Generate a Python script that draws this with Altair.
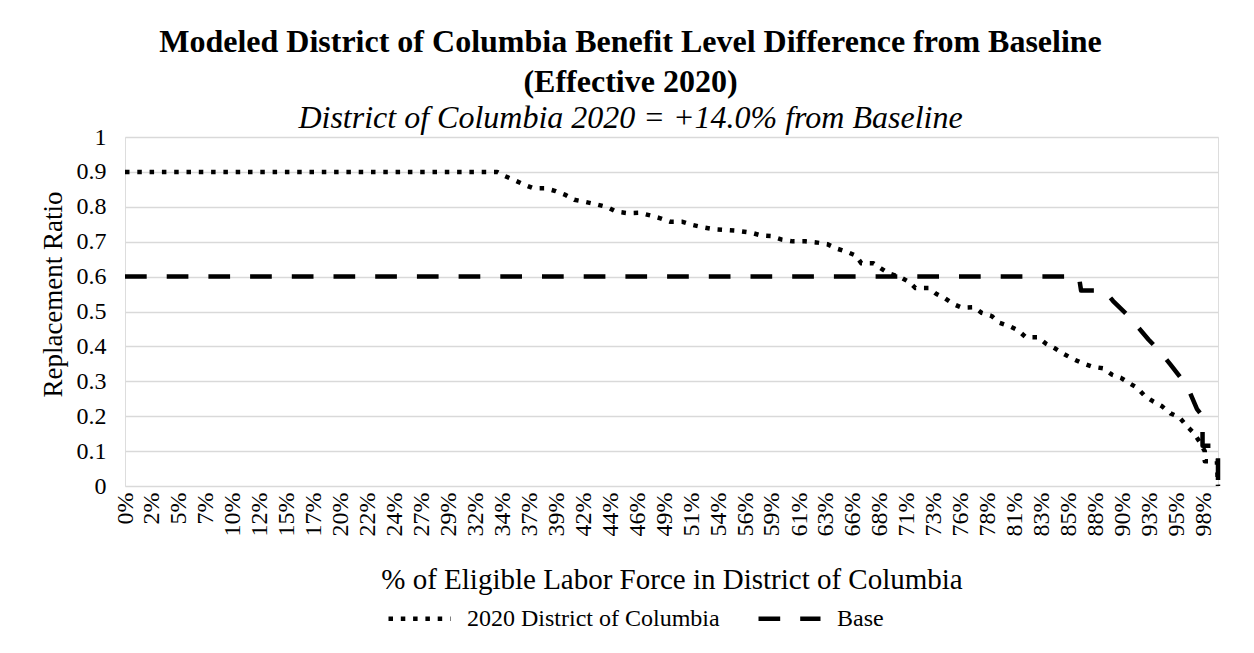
import json
import altair as alt
import pandas as pd

series_names = ["2020 District of Columbia", "Base"]

dc_x = [0, 33.7, 34.4, 35.3, 36.2, 37.0, 38.1, 39.0, 39.9, 40.7, 41.7, 42.7, 43.7, 44.5, 45.5, 46.6,
        47.6, 48.5, 49.4, 50.5, 51.4, 52.4, 53.3, 55.3, 56.7, 57.6, 58.5, 59.5, 60.5, 61.6, 62.6,
        63.6, 64.5, 65.3, 66.2, 66.7, 67.8, 68.5, 69.2, 70.2, 71.0, 71.6, 72.8, 73.5, 74.3, 75.0,
        75.8, 76.9, 77.6, 78.5, 79.2, 80.1, 80.9, 81.6, 82.7, 83.4, 84.3, 85.0, 85.8, 86.7, 87.6,
        88.6, 89.4, 90.2, 91.0, 91.7, 92.4, 93.1, 93.9, 94.7, 95.5, 96.2, 96.8, 97.3, 97.8, 97.8,
        98.9, 99.0]
dc_y = [0.9, 0.9, 0.888, 0.876, 0.863, 0.853, 0.853, 0.845, 0.834, 0.820, 0.814, 0.807, 0.799, 0.786,
        0.782, 0.783, 0.775, 0.767, 0.757, 0.757, 0.748, 0.741, 0.736, 0.732, 0.726, 0.718, 0.716,
        0.706, 0.701, 0.701, 0.698, 0.693, 0.680, 0.672, 0.660, 0.638, 0.638, 0.623, 0.609, 0.599,
        0.585, 0.567, 0.567, 0.550, 0.537, 0.522, 0.511, 0.512, 0.496, 0.487, 0.468, 0.458, 0.446,
        0.426, 0.426, 0.408, 0.393, 0.379, 0.365, 0.352, 0.342, 0.337, 0.319, 0.310, 0.294, 0.281,
        0.257, 0.243, 0.229, 0.208, 0.197, 0.171, 0.152, 0.128, 0.100, 0.071, 0.071, 0.0]

base_x = [0, 86.4, 86.6, 88.7, 89.5, 90.8, 91.7, 92.7, 93.8, 94.7, 95.6, 96.4, 97.1, 97.6, 97.6, 99.0, 99.0]
base_y = [0.6, 0.6, 0.56, 0.56, 0.53, 0.49, 0.457, 0.42, 0.383, 0.348, 0.311, 0.272, 0.22, 0.2, 0.115, 0.115, 0.01]

tick_values = [0, 2.44, 4.88, 7.33, 9.77, 12.21, 14.65, 17.09, 19.53, 21.98, 24.42, 26.86, 29.30,
               31.74, 34.19, 36.63, 39.07, 41.51, 43.95, 46.39, 48.84, 51.28, 53.72, 56.16, 58.60,
               61.05, 63.49, 65.93, 68.37, 70.81, 73.25, 75.70, 78.14, 80.58, 83.02, 85.46, 87.91,
               90.35, 92.79, 95.23, 97.67]
tick_labels = ["0%", "2%", "5%", "7%", "10%", "12%", "15%", "17%", "20%", "22%", "24%", "27%", "29%",
               "32%", "34%", "37%", "39%", "42%", "44%", "46%", "49%", "51%", "54%", "56%", "59%",
               "61%", "63%", "66%", "68%", "71%", "73%", "76%", "78%", "81%", "83%", "85%", "88%",
               "90%", "93%", "95%", "98%"]

y_values = [0, 0.1, 0.2, 0.3, 0.4, 0.5, 0.6, 0.7, 0.8, 0.9, 1]
y_labels = ["0", "0.1", "0.2", "0.3", "0.4", "0.5", "0.6", "0.7", "0.8", "0.9", "1"]

rows = []
for i, (x, y) in enumerate(zip(dc_x, dc_y)):
    rows.append({"series": series_names[0], "pct": x, "ratio": y, "ord": i})
for i, (x, y) in enumerate(zip(base_x, base_y)):
    rows.append({"series": series_names[1], "pct": x, "ratio": y, "ord": i})
df = pd.DataFrame(rows)

FONT = "Liberation Serif"

x_label_expr = f"{json.dumps(tick_labels)}[indexof({json.dumps(tick_values)}, datum.value)]"
y_label_expr = f"{json.dumps(y_labels)}[indexof({json.dumps(y_values)}, datum.value)]"

chart = alt.Chart(df).mark_line(
    color="black", strokeWidth=4.5, strokeCap="butt", strokeJoin="round"
).encode(
    x=alt.X("pct:Q",
            scale=alt.Scale(domain=[0, 99], nice=False, zero=False),
            axis=alt.Axis(values=tick_values, labelExpr=x_label_expr, labelAngle=-90,
                          labelFont=FONT, labelFontSize=24, labelColor="black",
                          labelPadding=6, labelOverlap=False, labelFlush=False,
                          title="% of Eligible Labor Force in District of Columbia",
                          titleFont=FONT, titleFontSize=29, titleFontWeight="normal",
                          titleColor="black", titlePadding=30,
                          grid=False, ticks=False, domain=False)),
    y=alt.Y("ratio:Q",
            scale=alt.Scale(domain=[0, 1], nice=False),
            axis=alt.Axis(values=y_values, labelExpr=y_label_expr,
                          labelFont=FONT, labelFontSize=24, labelColor="black",
                          labelPadding=19, labelOverlap=False, labelFlush=False,
                          title="Replacement Ratio",
                          titleFont=FONT, titleFontSize=27, titleFontWeight="normal",
                          titleColor="black", titlePadding=9, titleY=157,
                          grid=True, gridColor="#d9d9d9", gridWidth=1.5,
                          ticks=False, domain=False)),
    strokeDash=alt.StrokeDash("series:N",
                              scale=alt.Scale(domain=series_names, range=[[4.5, 7.8], [21.7, 20]]),
                              legend=alt.Legend(orient="none", legendX=261, legendY=448,
                                                direction="horizontal", title=None,
                                                symbolType="stroke", symbolSize=3844,
                                                symbolStrokeWidth=4.5, symbolStrokeColor="black",
                                                labelFont=FONT, labelFontSize=24, labelColor="black",
                                                labelOffset=14, columnPadding=29, labelLimit=500)),
    order="ord:Q",
).properties(
    width=1093,
    height=349,
    autosize=alt.AutoSizeParams(type="none"),
    padding={"left": 125, "top": 137, "right": 36, "bottom": 167},
    title=alt.TitleParams(
        text=["Modeled District of Columbia Benefit Level Difference from Baseline", "(Effective 2020)"],
        subtitle="District of Columbia 2020 = +14.0% from Baseline",
        font=FONT, fontSize=32, fontWeight="bold", color="black",
        subtitleFont="'Liberation Serif', 'Times New Roman', serif",
        subtitleFontSize=32, subtitleFontStyle="italic", subtitleColor="black",
        anchor="middle", dx=-41, lineHeight=40, subtitlePadding=4, offset=-10,
    ),
).configure_view(stroke=None).configure(background="white")

chart.save("out.html", embed_options={"renderer": "svg", "actions": False})
